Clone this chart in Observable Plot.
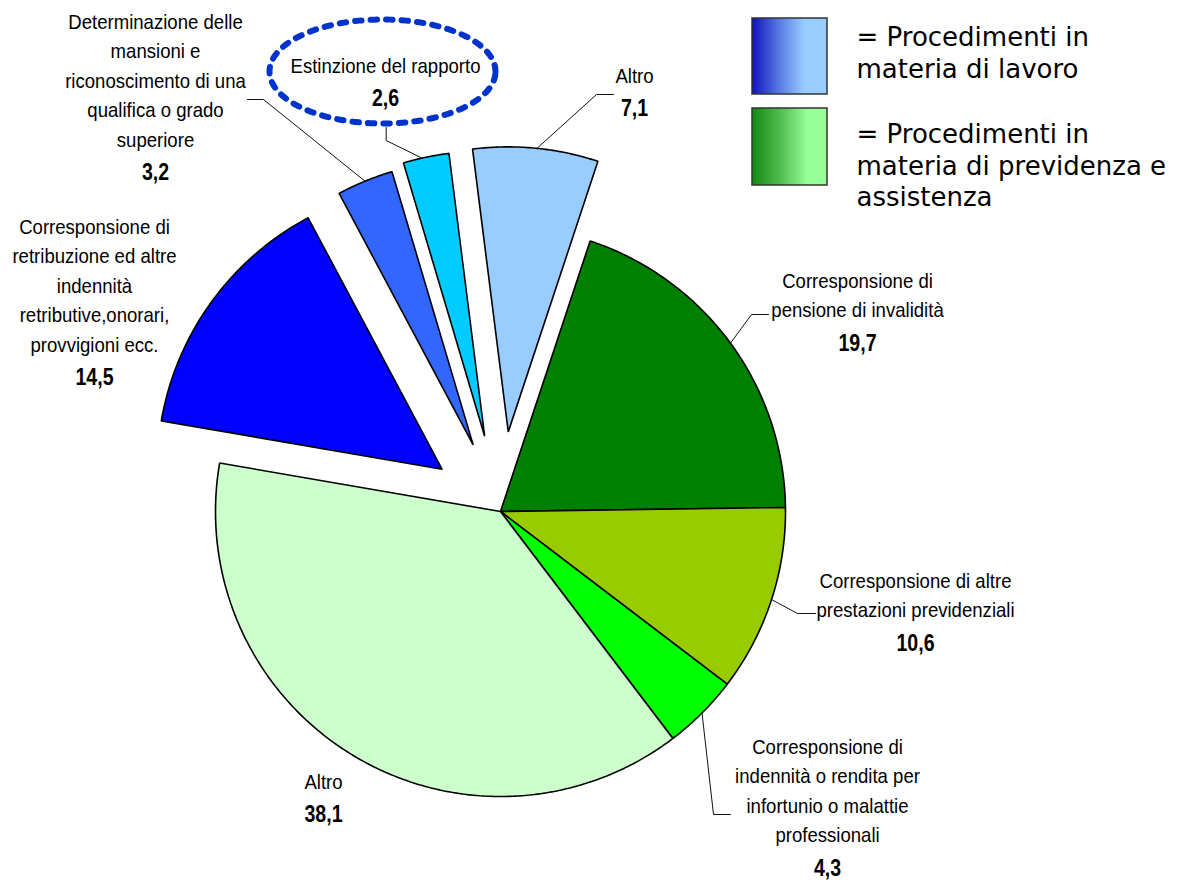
<!DOCTYPE html>
<html>
<head>
<meta charset="utf-8">
<script src="https://cdn.jsdelivr.net/npm/d3@7"></script>
<script src="https://cdn.jsdelivr.net/npm/@observablehq/plot@0.6"></script>
<style>
  html, body { margin: 0; padding: 0; background: #fff; }
  #chart { width: 1179px; height: 882px; }
</style>
</head>
<body>
<div id="chart"></div>
<script>
// ---------- DATA ----------
const categories = [
  "Altro (lavoro)",
  "Corresponsione di pensione di invalidità",
  "Corresponsione di altre prestazioni previdenziali",
  "Corresponsione di indennità o rendita per infortunio o malattie professionali",
  "Altro (previdenza e assistenza)",
  "Corresponsione di retribuzione ed altre indennità retributive,onorari, provvigioni ecc.",
  "Determinazione delle mansioni e riconoscimento di una qualifica o grado superiore",
  "Estinzione del rapporto"
];
const values = [7.1, 19.7, 10.6, 4.3, 38.1, 14.5, 3.2, 2.6];
const groups = ["lavoro", "previdenza", "previdenza", "previdenza", "previdenza", "lavoro", "lavoro", "lavoro"];
const valueLabels = ["7,1", "19,7", "10,6", "4,3", "38,1", "14,5", "3,2", "2,6"];
const labelLines = [
  ["Altro"],
  ["Corresponsione di", "pensione di invalidità"],
  ["Corresponsione di altre", "prestazioni previdenziali"],
  ["Corresponsione di", "indennità o rendita per", "infortunio o malattie", "professionali"],
  ["Altro"],
  ["Corresponsione di", "retribuzione ed altre", "indennità", "retributive,onorari,", "provvigioni ecc."],
  ["Determinazione delle", "mansioni e", "riconoscimento di una", "qualifica o grado", "superiore"],
  ["Estinzione del rapporto"]
];
const legendGroups = ["lavoro", "previdenza"];
const legendLines = [
  ["= Procedimenti in", "materia di lavoro"],
  ["= Procedimenti in", "materia di previdenza e", "assistenza"]
];

// ---------- STYLE / LAYOUT ----------
const sliceColors = ["#99CCFF", "#008000", "#99CC00", "#00FF00", "#CCFFCC", "#0000FF", "#3366FF", "#00CCFF"];
const explode = [80, 0, 0, 0, 0, 72, 72, 77];
const R = 285;
const startDeg = -7.2;
// label anchor: [center x, first baseline y] in px offsets from pie centre (y up)
const labelPos = [[134, 429], [357, 224], [415, -76], [327, -242], [-177, -277], [-406, 278], [-345, 483], [-115, 439]];
const lineStep = 29.5, numGap = 33.5;
// leaders: slice index, attach angle (deg), elbow, end
const leaders = [
  {i: 0, a: 5.8, elbow: [96, 417], end: [113, 417]},
  {i: 7, a: -12.7, elbow: [-114.3, 371], end: [-114.3, 384]},
  {i: 6, a: -22.3, elbow: [-237, 412], end: [-253, 412]},
  {i: 1, a: 53.8, elbow: [251, 197], end: [268, 197]},
  {i: 2, a: 108, elbow: [297, -102], end: [315, -102]},
  {i: 3, a: 135, elbow: [213, -303], end: [230, -303]}
];
const ellipse = {cx: -118, cy: 440, rx: 113, ry: 52};
const legendBoxes = [
  {g: "lavoro", x1: 252, x2: 327, y1: 493, y2: 417, fill: "url(#gradLavoro)"},
  {g: "previdenza", x1: 252, x2: 327, y1: 403, y2: 326, fill: "url(#gradPrev)"}
];
const legendTextX = 356;
const legendBaselines = [[466, 434], [369, 337, 306]];

// ---------- GEOMETRY ----------
const rad = Math.PI / 180;
const arcs = d3.pie().sort(null).value(d => d)
  .startAngle(startDeg * rad).endAngle(startDeg * rad + 2 * Math.PI)(values);

const offsets = arcs.map((a, i) => {
  const mid = (a.startAngle + a.endAngle) / 2;
  return [explode[i] * Math.sin(mid), explode[i] * Math.cos(mid)];
});

const slicePts = [];
arcs.forEach((a, i) => {
  const [ox, oy] = offsets[i];
  slicePts.push({k: categories[i], x: ox, y: oy, c: sliceColors[i]});
  const n = Math.max(2, Math.ceil((a.endAngle - a.startAngle) / (0.5 * rad)));
  for (let j = 0; j <= n; j++) {
    const t = a.startAngle + (a.endAngle - a.startAngle) * j / n;
    slicePts.push({k: categories[i], x: ox + R * Math.sin(t), y: oy + R * Math.cos(t), c: sliceColors[i]});
  }
});

const leaderPts = [];
leaders.forEach((l, j) => {
  const [ox, oy] = offsets[l.i];
  leaderPts.push({k: j, x: ox + R * Math.sin(l.a * rad), y: oy + R * Math.cos(l.a * rad)});
  leaderPts.push({k: j, x: l.elbow[0], y: l.elbow[1]});
  leaderPts.push({k: j, x: l.end[0], y: l.end[1]});
});

const textRows = [];
const numRows = [];
labelLines.forEach((lines, i) => {
  const [x, y0] = labelPos[i];
  lines.forEach((t, j) => textRows.push({x, y: y0 - j * lineStep, t}));
  numRows.push({x, y: y0 - (lines.length - 1) * lineStep - numGap, t: valueLabels[i]});
});

const ellPts = d3.range(0, 361, 2).map(d => ({x: ellipse.cx + ellipse.rx * Math.cos(d * rad), y: ellipse.cy + ellipse.ry * Math.sin(d * rad)}));

const legendRows = [];
legendLines.forEach((lines, i) => lines.forEach((t, j) => legendRows.push({x: legendTextX, y: legendBaselines[i][j], t})));

// ---------- PLOT ----------
const labelFont = "'Liberation Sans', Arial, sans-serif";
const chart = Plot.plot({
  width: 1179,
  height: 882,
  margin: 0,
  style: {background: "#fff", overflow: "visible"},
  x: {domain: [-500, 679], range: [0, 1179], axis: null},
  y: {domain: [-371, 511], range: [882, 0], axis: null},
  color: {type: "identity"},
  marks: [
    Plot.line(slicePts, {x: "x", y: "y", z: "k", fill: "c", stroke: "#000", strokeWidth: 1.6, curve: "linear-closed", strokeLinejoin: "miter"}),
    Plot.line(leaderPts, {x: "x", y: "y", z: "k", stroke: "#111", strokeWidth: 1}),
    Plot.line(ellPts, {x: "x", y: "y", stroke: "#0033CC", strokeWidth: 6, strokeDasharray: "6.5 9", curve: "linear-closed"}),
    Plot.text(textRows, {x: "x", y: "y", text: "t", lineAnchor: "bottom", textAnchor: "middle", fontSize: 21, fontFamily: labelFont, fill: "#000"}),
    Plot.text(numRows, {x: "x", y: "y", text: "t", lineAnchor: "bottom", textAnchor: "middle", fontSize: 23, fontWeight: "bold", fontFamily: labelFont, fill: "#000"}),
    Plot.rect(legendBoxes, {x1: "x1", x2: "x2", y1: "y1", y2: "y2", fill: "fill", stroke: "#333", strokeWidth: 1.5}),
    Plot.text(legendRows, {x: "x", y: "y", text: "t", lineAnchor: "bottom", textAnchor: "start", fontSize: 26, fontFamily: "'DejaVu Sans', Verdana, sans-serif", fill: "#000"})
  ]
});

// gradients for legend squares
const svgEl = chart.tagName.toLowerCase() === "svg" ? chart : chart.querySelector("svg");
const svg = d3.select(svgEl);
const defs = svg.insert("defs", ":first-child");
const g1 = defs.append("linearGradient").attr("id", "gradLavoro").attr("x1", "0%").attr("x2", "100%").attr("y1", "0%").attr("y2", "0%");
g1.append("stop").attr("offset", "0%").attr("stop-color", "#1010C0");
g1.append("stop").attr("offset", "35%").attr("stop-color", "#5577E0");
g1.append("stop").attr("offset", "70%").attr("stop-color", "#99CCFF");
g1.append("stop").attr("offset", "100%").attr("stop-color", "#99CCFF");
const g2 = defs.append("linearGradient").attr("id", "gradPrev").attr("x1", "0%").attr("x2", "100%").attr("y1", "0%").attr("y2", "0%");
g2.append("stop").attr("offset", "0%").attr("stop-color", "#108A10");
g2.append("stop").attr("offset", "40%").attr("stop-color", "#55C055");
g2.append("stop").attr("offset", "75%").attr("stop-color", "#99FF99");
g2.append("stop").attr("offset", "100%").attr("stop-color", "#99FF99");

// condensed look for the slice labels (horizontal squeeze about the anchor)
const lineSet = new Set(textRows.map(d => d.t));
const numSet = new Set(valueLabels);
svg.selectAll("text").each(function () {
  const s = this.textContent;
  const k = numSet.has(s) ? 0.85 : lineSet.has(s) ? 0.885 : null;
  if (k == null) return;
  const t = this.getAttribute("transform");
  if (t) this.setAttribute("transform", t + ` scale(${k},1)`);
  else {
    const x = this.getAttribute("x") || 0, y = this.getAttribute("y") || 0;
    this.removeAttribute("x"); this.removeAttribute("y");
    this.setAttribute("transform", `translate(${x},${y}) scale(${k},1)`);
  }
});

document.getElementById("chart").append(chart);
</script>
</body>
</html>
